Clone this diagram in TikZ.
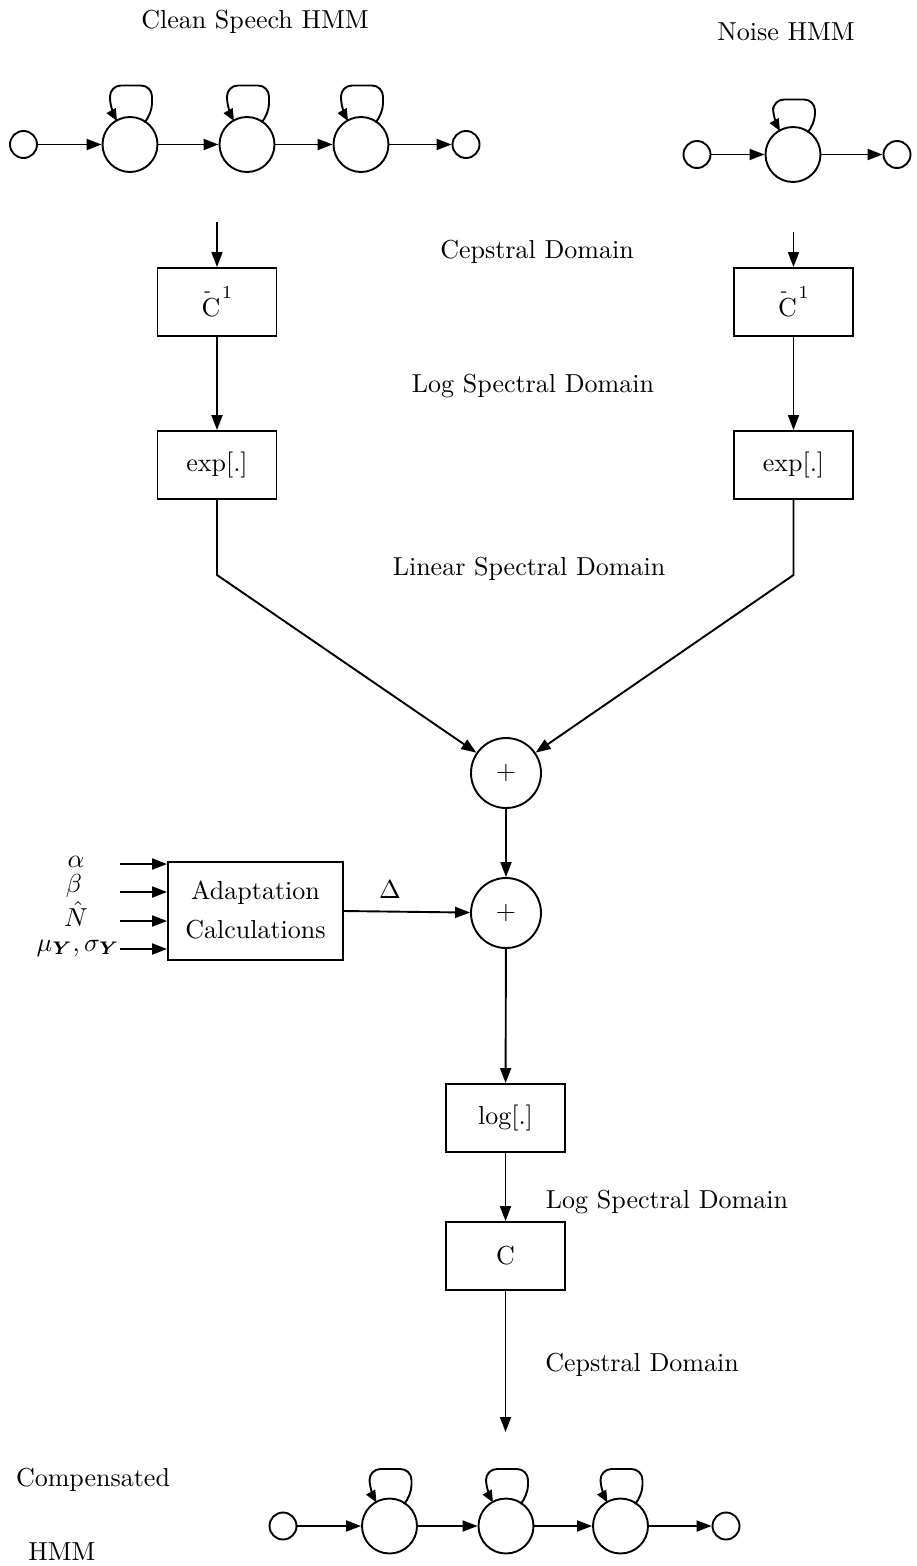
\documentclass[tikz,border=0pt]{standalone}
\usepackage{graphicx}
\usepackage{amsmath}
\usetikzlibrary{arrows.meta}
\newcommand\T[1]{\scalebox{2.6}{#1}}
\newcommand\Cinv{C\llap{\raisebox{7.6pt}{\scriptsize -}\kern3.6pt}\kern0.6pt\raisebox{6.9pt}{\scriptsize 1}}
\newcommand\hmmloop[2]{%
  \draw[looparr,rounded corners=11pt]
    ([shift={(15,-22.5)}]#1.center) -- ([shift={(22,-30)}]#1.center)
    -- ([shift={(22,-#2)}]#1.center) -- ([shift={(-20,-#2)}]#1.center)
    -- ([shift={(-20,-36)}]#1.center) -- ([shift={(-13,-23.5)}]#1.center);}
\begin{document}
\begin{tikzpicture}[x=1pt,y=-1pt,line width=1.9pt,
  arr/.style={-{Triangle[length=15pt,width=11pt]}},
  looparr/.style={-{Triangle[length=12pt,width=10pt]}},
  st/.style={circle,draw,minimum size=55pt,inner sep=0pt},
  sm/.style={circle,draw,minimum size=27pt,inner sep=0pt},
  blk/.style={draw,minimum width=119pt,minimum height=68pt,inner sep=0pt},
  sum/.style={circle,draw,minimum size=70pt,inner sep=0pt},
  lbl/.style={inner sep=0pt}]
\useasboundingbox (0,0) rectangle (917,1566);

% titles and domain labels
\node[lbl] (tclean) at (255,22) {\T{Clean Speech HMM}};
\node[lbl] (tnoise) at (786,32) {\T{Noise HMM}};
\node[lbl] (d1) at (537,252) {\T{Cepstral Domain}};
\node[lbl] (d2) at (533,386) {\T{Log Spectral Domain}};
\node[lbl] (d3) at (529,569) {\T{Linear Spectral Domain}};
\node[lbl] (d4) at (667,1202) {\T{Log Spectral Domain}};
\node[lbl] (d5) at (642,1365) {\T{Cepstral Domain}};
\node[lbl] (tc1) at (93,1480) {\T{Compensated}};
\node[lbl] (tc2) at (62,1552) {\T{HMM}};

% clean speech HMM
\node[sm] (a0) at (23.5,144.5) {};
\node[st] (a1) at (130,144.5) {};
\node[st] (a2) at (247,144.5) {};
\node[st] (a3) at (361,144.5) {};
\node[sm] (a4) at (466,144.5) {};
\draw[arr] (a0) -- (a1);
\draw[arr] (a1) -- (a2);
\draw[arr] (a2) -- (a3);
\draw[arr] (a3) -- (a4);
\hmmloop{a1}{59}
\hmmloop{a2}{59}
\hmmloop{a3}{59}

% noise HMM
\node[sm] (n0) at (697,154.5) {};
\node[st] (n1) at (793,154.5) {};
\node[sm] (n2) at (897,154.5) {};
\draw[arr] (n0) -- (n1);
\draw[arr] (n1) -- (n2);
\hmmloop{n1}{55}

% processing chains
\node[blk] (ci1) at (217,302) {\T{\Cinv}};
\node[blk] (ci2) at (793.5,302) {\T{\Cinv}};
\node[blk] (ex1) at (217,465) {\T{exp[.]}};
\node[blk] (ex2) at (793.5,465) {\T{exp[.]}};
\coordinate (t1) at (217,222);
\coordinate (t2) at (793.5,232);
\draw[arr] (t1) -- (ci1);
\draw[arr] (t2) -- (ci2);
\draw[arr] (ci1) -- (ex1);
\draw[arr] (ci2) -- (ex2);

\node[sum] (p1) at (506,773) {\T{$+$}};
\node[sum] (p2) at (506,913) {\T{$+$}};
\coordinate (k1) at (217,575);
\coordinate (k2) at (793.5,575);
\draw[arr] (ex1) -- (k1) -- (p1);
\draw[arr] (ex2) -- (k2) -- (p1);
\draw[arr] (p1) -- (p2);

% adaptation
\node[draw,minimum width=175pt,minimum height=98pt,inner sep=0pt] (ad) at (255.5,911)
  {\T{\renewcommand\arraystretch{1.25}\begin{tabular}{@{}c@{}}Adaptation\\Calculations\end{tabular}}};
\node[lbl] (la) at (76,862) {\T{$\alpha$}};
\node[lbl] (lb) at (74,886) {\T{$\beta$}};
\node[lbl] (ln) at (76,914) {\T{$\hat{N}$}};
\node[lbl] (lm) at (78,948) {\T{$\mu_{\boldsymbol{Y}},\sigma_{\boldsymbol{Y}}$}};
\coordinate (i1) at (120,864);
\coordinate (i2) at (120,892);
\coordinate (i3) at (120,921);
\coordinate (i4) at (120,949);
\draw[arr] (i1) -- (i1 -| ad.west);
\draw[arr] (i2) -- (i2 -| ad.west);
\draw[arr] (i3) -- (i3 -| ad.west);
\draw[arr] (i4) -- (i4 -| ad.west);
\draw[arr] (ad.east) -- (p2);
\node[lbl] (dl) at (390,890) {\T{$\Delta$}};

% output chain
\node[blk] (lg) at (505.5,1118) {\T{log[.]}};
\node[blk] (cc) at (505.5,1256) {\T{C}};
\coordinate (e1) at (505.5,1432);
\draw[arr] (p2) -- (lg);
\draw[arr] (lg) -- (cc);
\draw[arr] (cc) -- (e1);

% compensated HMM
\node[sm] (b0) at (283,1526) {};
\node[st] (b1) at (389.5,1526) {};
\node[st] (b2) at (506,1526) {};
\node[st] (b3) at (620.5,1526) {};
\node[sm] (b4) at (726,1526) {};
\draw[arr] (b0) -- (b1);
\draw[arr] (b1) -- (b2);
\draw[arr] (b2) -- (b3);
\draw[arr] (b3) -- (b4);
\hmmloop{b1}{57}
\hmmloop{b2}{57}
\hmmloop{b3}{57}
\end{tikzpicture}
\end{document}
